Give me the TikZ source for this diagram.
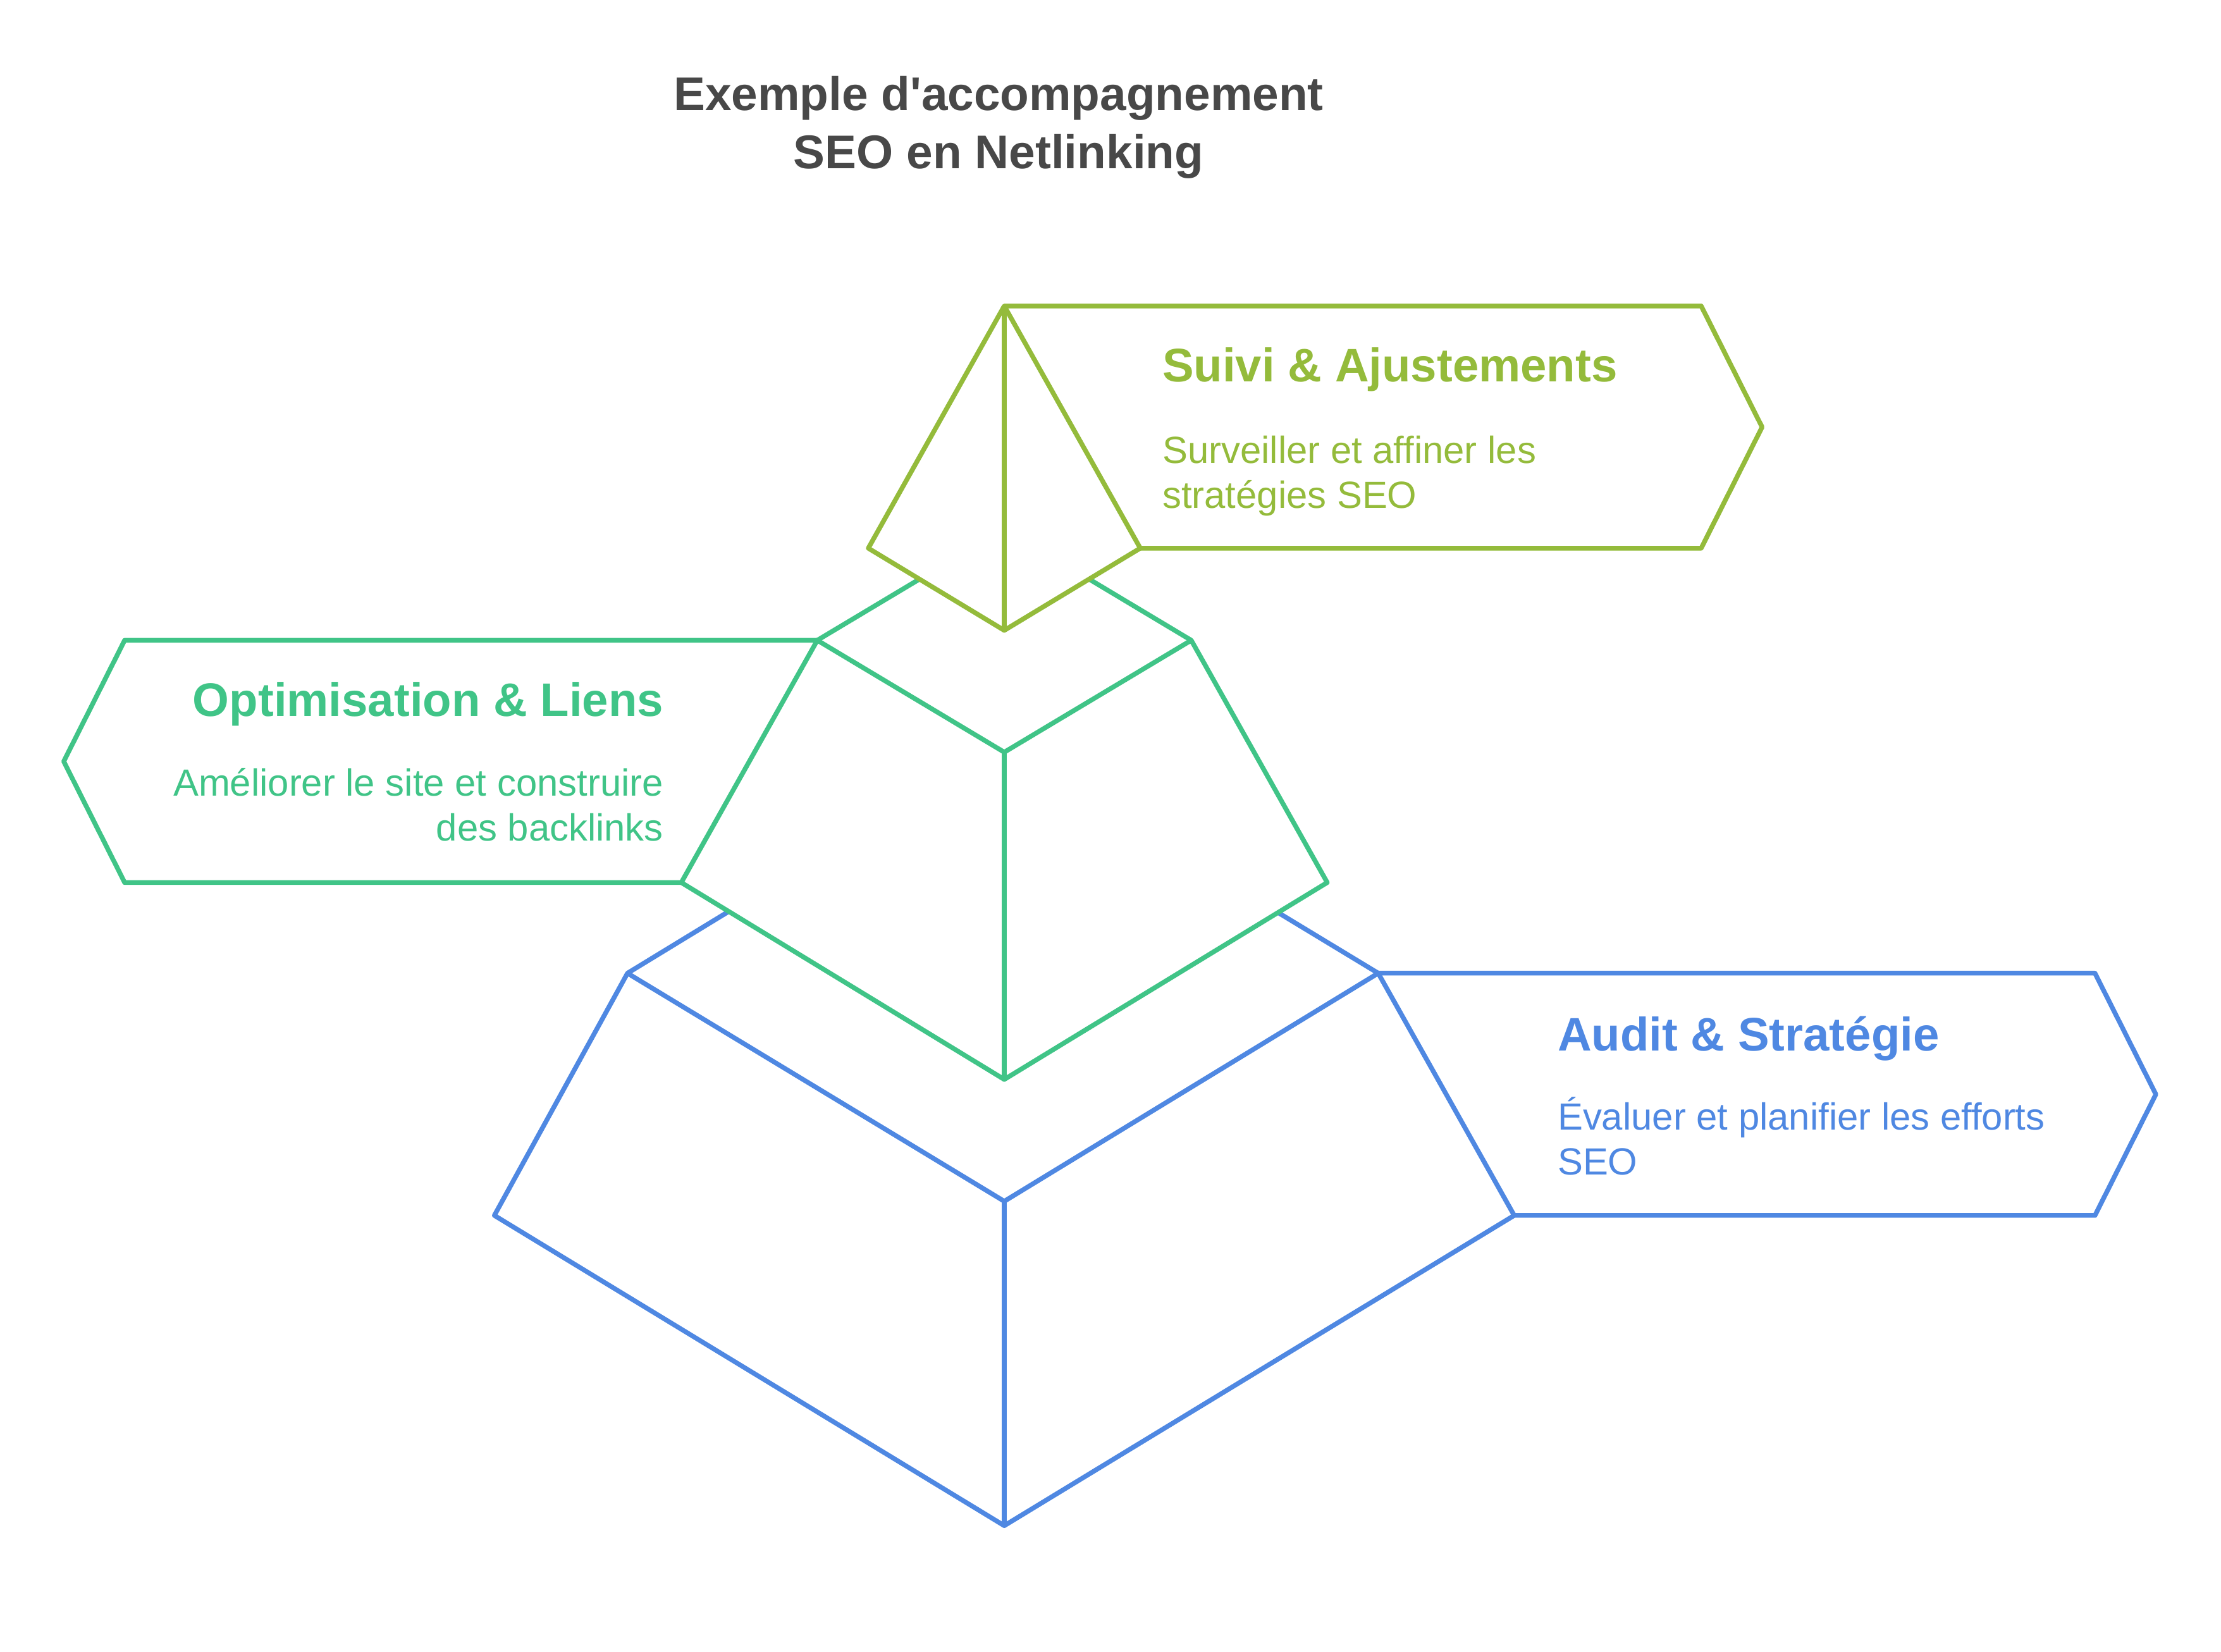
\documentclass[tikz,border=0pt]{standalone}
\usepackage{fontspec}
\setmainfont{Liberation Sans}
\usetikzlibrary{positioning}
\definecolor{suivi}{HTML}{94BB3B}
\definecolor{optim}{HTML}{40C487}
\definecolor{audit}{HTML}{4F88E2}
\definecolor{titre}{HTML}{484848}

\begin{document}
\begin{tikzpicture}[
  edge/.style={line width=0.95pt, line join=round},
  head/.style={inner sep=0pt, font=\fontsize{9.45}{11}\selectfont\bfseries},
  body/.style={inner sep=0pt, font=\fontsize{7.6}{9.1}\selectfont},
]
  \useasboundingbox (0,0) rectangle (15.68,11.66);

  \node[inner sep=0pt, align=center, text=titre, font=\fontsize{9.5}{11.7}\selectfont\bfseries] (title) at (7.05,10.76)
    {Exemple d\textquotesingle accompagnement\\SEO en Netlinking};

  % bottom level
  \coordinate (aL) at (4.43,4.79);
  \coordinate (aR) at (9.73,4.79);
  \coordinate (aC) at (7.09,3.18);
  \coordinate (aA) at (7.07,6.40);
  \coordinate (aBL) at (3.49,3.08);
  \coordinate (aBR) at (10.69,3.08);
  \coordinate (aB) at (7.09,0.89);
  \coordinate (aT1) at (14.79,4.79);
  \coordinate (aT2) at (15.22,3.935);
  \coordinate (aT3) at (14.79,3.08);

  % middle level
  \coordinate (oL) at (5.77,7.14);
  \coordinate (oR) at (8.41,7.14);
  \coordinate (oC) at (7.09,6.35);
  \coordinate (oA) at (7.09,7.93);
  \coordinate (oBL) at (4.81,5.43);
  \coordinate (oBR) at (9.37,5.43);
  \coordinate (oB) at (7.09,4.04);
  \coordinate (oT1) at (0.88,7.14);
  \coordinate (oT2) at (0.45,6.285);
  \coordinate (oT3) at (0.88,5.43);

  % top level
  \coordinate (sA) at (7.09,9.50);
  \coordinate (sL) at (6.13,7.79);
  \coordinate (sR) at (8.05,7.79);
  \coordinate (sB) at (7.09,7.21);
  \coordinate (sT1) at (12.01,9.50);
  \coordinate (sT2) at (12.44,8.645);
  \coordinate (sT3) at (12.01,7.79);

  \draw[edge, audit] (aL) -- (aBL) -- (aB) -- (aBR) -- (aR) -- (aC) -- cycle;
  \draw[edge, audit] (aC) -- (aB);
  \draw[edge, audit] (aR) -- (aT1) -- (aT2) -- (aT3) -- (aBR);
  \draw[edge, audit] (aL) -- (intersection of aL--aA and oBL--oB);
  \draw[edge, audit] (aR) -- (intersection of aR--aA and oBR--oB);

  \draw[edge, optim] (oL) -- (oBL) -- (oB) -- (oBR) -- (oR) -- (oC) -- cycle;
  \draw[edge, optim] (oC) -- (oB);
  \draw[edge, optim] (oL) -- (oT1) -- (oT2) -- (oT3) -- (oBL);
  \draw[edge, optim] (oL) -- (intersection of oL--oA and sL--sB);
  \draw[edge, optim] (oR) -- (intersection of oR--oA and sR--sB);

  \draw[edge, suivi] (sA) -- (sL) -- (sB) -- (sR) -- cycle;
  \draw[edge, suivi] (sA) -- (sB);
  \draw[edge, suivi] (sA) -- (sT1) -- (sT2) -- (sT3) -- (sR);

  \node[head, text=suivi, anchor=west] (suiviT) at (8.20,9.05) {Suivi \& Ajustements};
  \node[body, text=suivi, anchor=west, align=left] (suiviD) at (8.20,8.30) {Surveiller et affiner les\\stratégies SEO};
  \node[head, text=optim, anchor=east] (optimT) at (4.69,6.69) {Optimisation \& Liens};
  \node[body, text=optim, anchor=east, align=right] (optimD) at (4.69,5.98) {Améliorer le site et construire\\des backlinks};
  \node[head, text=audit, anchor=west] (auditT) at (10.99,4.33) {Audit \& Stratégie};
  \node[body, text=audit, anchor=west, align=left] (auditD) at (10.99,3.64) {Évaluer et planifier les efforts\\SEO};
\end{tikzpicture}
\end{document}
